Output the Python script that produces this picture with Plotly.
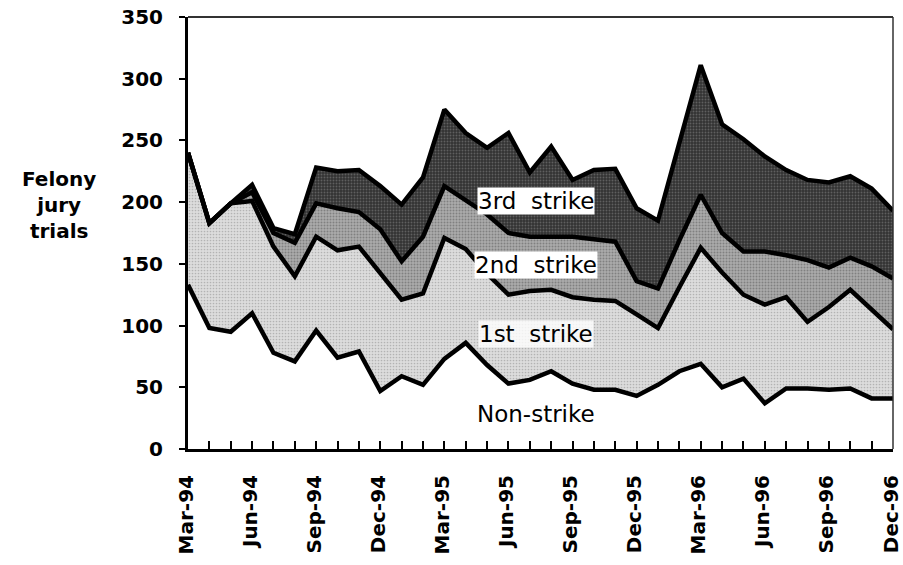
import plotly.graph_objects as go

# monthly felony jury trials, Mar-94 .. Dec-96
months = ['Mar-94', 'Apr-94', 'May-94', 'Jun-94', 'Jul-94', 'Aug-94', 'Sep-94', 'Oct-94',
          'Nov-94', 'Dec-94', 'Jan-95', 'Feb-95', 'Mar-95', 'Apr-95', 'May-95', 'Jun-95',
          'Jul-95', 'Aug-95', 'Sep-95', 'Oct-95', 'Nov-95', 'Dec-95', 'Jan-96', 'Feb-96',
          'Mar-96', 'Apr-96', 'May-96', 'Jun-96', 'Jul-96', 'Aug-96', 'Sep-96', 'Oct-96',
          'Nov-96', 'Dec-96']

non_strike = [133, 98, 95, 110, 78, 71, 96, 74, 79, 47, 59, 52, 73, 86, 68, 53, 56,
              63, 53, 48, 48, 43, 52, 63, 69, 50, 57, 37, 49, 49, 48, 49, 41, 41]
first_strike = [107, 85, 104, 91, 86, 69, 76, 87, 85, 95, 62, 74, 98, 76, 74, 72, 72,
                66, 70, 73, 72, 66, 46, 68, 94, 93, 68, 80, 74, 54, 67, 80, 72, 56]
second_strike = [0, 0, 0, 7, 11, 27, 27, 34, 28, 36, 31, 46, 42, 40, 48, 50, 44,
                 43, 49, 49, 48, 27, 32, 38, 43, 32, 35, 43, 34, 50, 32, 26, 35, 41]
third_strike = [0, 0, 0, 6, 4, 7, 29, 30, 34, 35, 46, 48, 62, 54, 54, 81, 52,
                73, 46, 56, 59, 59, 55, 79, 105, 88, 91, 77, 69, 65, 69, 66, 63, 55]

tick_labels = months[::3]
y_ticks     = [0, 50, 100, 150, 200, 250, 300, 350]

FONT      = 'DejaVu Sans, Arial, sans-serif'
x_idx     = list(range(len(months)))

series = [
    ('Non-strike', non_strike, None),
    ('1st strike', first_strike, dict(shape='.', fgcolor='#8a8a8a', bgcolor='#dcdcdc', size=3, solidity=0.25)),
    ('2nd strike', second_strike, dict(shape='.', fgcolor='#555555', bgcolor='#ababab', size=3, solidity=0.35)),
    ('3rd strike', third_strike, dict(shape='.', fgcolor='#8c8c8c', bgcolor='#333333', size=3, solidity=0.3)),
]

fig = go.Figure()
for name, vals, patt in series:
    kw = dict(x          = x_idx,
              y          = vals,
              name       = name,
              mode       = 'lines',
              stackgroup = 'one',
              line       = dict(color='black', width=4.5),
              hoverinfo  = 'name+y')
    if patt is None:
        kw['fillcolor'] = 'rgba(255,255,255,0)'
    else:
        kw['fillcolor']   = patt['bgcolor']
        kw['fillpattern'] = patt
    fig.add_trace(go.Scatter(**kw))

# series labels on the chart
labels = [
    ('3rd  strike', 16.3, 201, 'white'),
    ('2nd  strike', 16.3, 149, 'white'),
    ('1st  strike', 16.3, 93, 'rgba(255,255,255,0.8)'),
    ('Non-strike', 16.3, 28, 'rgba(255,255,255,0)'),
]
for text, lx, ly, bg in labels:
    fig.add_annotation(x=lx, y=ly, text=text, showarrow=False,
                       font=dict(family=FONT, size=23, color='black'),
                       bgcolor=bg, borderpad=0)

fig.add_annotation(xref='paper', yref='paper', x=-0.183, y=0.565,
                   text='<b>Felony<br>jury<br>trials</b>', showarrow=False,
                   align='center', xanchor='center', yanchor='middle',
                   font=dict(family=FONT, size=20, color='black'))

# top and right frame lines
fig.add_shape(type='line', xref='paper', yref='paper', x0=0, x1=1, y0=1, y1=1,
              line=dict(color='#333333', width=2))
fig.add_shape(type='line', xref='paper', yref='paper', x0=1, x1=1, y0=0, y1=1,
              line=dict(color='#333333', width=1.5))

fig.update_layout(
    width         = 903,
    height        = 565,
    margin        = dict(l=188, r=10, t=17, b=116),
    plot_bgcolor  = 'white',
    paper_bgcolor = 'white',
    showlegend    = False,
    font          = dict(family=FONT, color='black'),
)
fig.update_xaxes(range=[0, 33], tickmode='array', tickvals=x_idx[::3], ticktext=tick_labels,
                 tickangle=-90, tickfont=dict(family=FONT, size=20, color='black', weight='bold'),
                 automargin=False, ticklabelstandoff=15, ticklabelshift=-2,
                 ticklabeloverflow='allow',
                 showgrid=False, zeroline=False, showline=True, linecolor='black', linewidth=3,
                 ticks='inside', ticklen=8, tickwidth=1.5, tickcolor='black',
                 minor=dict(tickmode='array', tickvals=x_idx, ticks='inside', ticklen=8,
                            tickwidth=1.5, tickcolor='black'))
fig.update_yaxes(range=[0, 350], tickmode='array', tickvals=y_ticks,
                 tickfont=dict(family=FONT, size=20, color='black', weight='bold'),
                 automargin=False, ticklabelstandoff=12,
                 showgrid=False, zeroline=False, showline=True, linecolor='black', linewidth=3,
                 ticks='outside', ticklen=6, tickwidth=1.5, tickcolor='black')

# drop the default page margin so the figure sits at the window origin
fig.write_html("out.html",
               config={'displayModeBar': False},
               post_script="document.body.style.margin='0';document.body.style.overflow='hidden';")
